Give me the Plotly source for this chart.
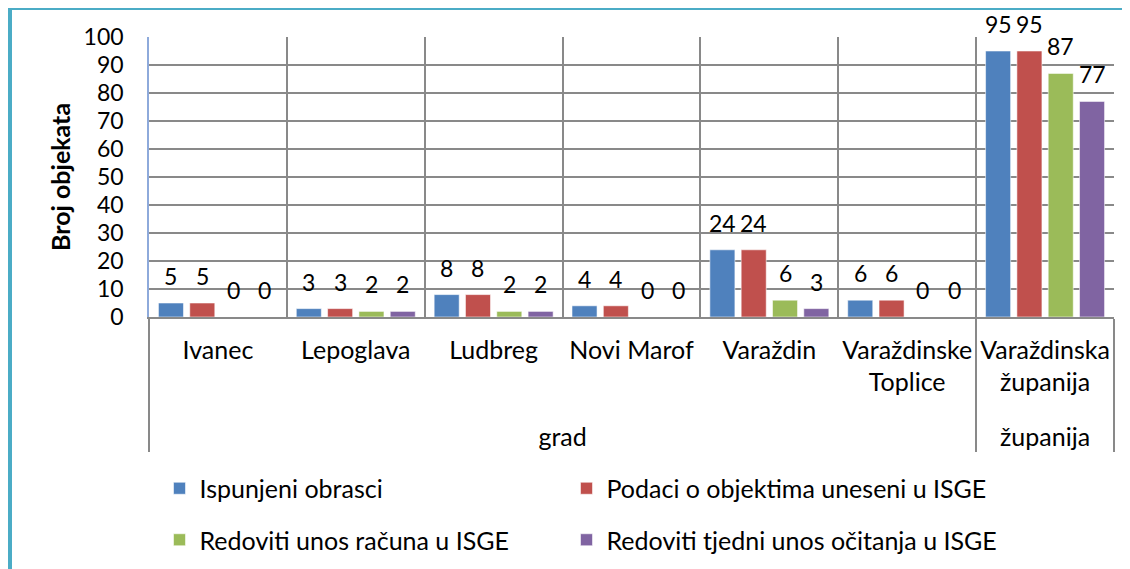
import plotly.graph_objects as go

groups = ["<br>grad"] * 6 + ["<br>županija"]
cities = ["Ivanec", "Lepoglava", "Ludbreg", "Novi Marof", "Varaždin",
          "Varaždinske<br>Toplice", "Varaždinska<br>županija"]

series_names = ["Ispunjeni obrasci", "Podaci o objektima uneseni u ISGE",
                "Redoviti unos računa u ISGE", "Redoviti tjedni unos očitanja u ISGE"]
ispunjeni = [5, 3, 8, 4, 24, 6, 95]
podaci = [5, 3, 8, 4, 24, 6, 95]
racuni = [0, 2, 2, 0, 6, 0, 87]
ocitanja = [0, 2, 2, 0, 3, 0, 77]
series_values = [ispunjeni, podaci, racuni, ocitanja]
colors = ["#4f81bd", "#c0504d", "#9bbb59", "#8064a2"]

yticks = [0, 10, 20, 30, 40, 50, 60, 70, 80, 90, 100]
y_title = "Broj objekata"

FONT = "Lato, 'Noto Sans', sans-serif"
FS_TXT = 25
FS_NUM = 23
BARGAP = 0.0914
NSER = len(series_values)

# figure is drawn inside the page's default 8px body margin
W, H = 1122, 561
ML, MR, MT, MB = 141, 16, 29, 252
PW, PH = W - ML - MR, H - MT - MB

fig = go.Figure()
for k, (name, vals, col) in enumerate(zip(series_names, series_values, colors)):
    fig.add_trace(go.Bar(
        x=[groups, cities], y=vals, name=name,
        marker=dict(color=col, line=dict(color="rgba(255,255,255,0.55)", width=1)),
        legend="legend" if k % 2 == 0 else "legend2",
        legendgroup=f"g{k}",
    ))

# data labels (positioned through the axis scales)
slot = (1 - BARGAP) / NSER
annotations = []
for k, vals in enumerate(series_values):
    off = -(1 - BARGAP) / 2 + slot * (k + 0.5)
    for j, v in enumerate(vals):
        annotations.append(dict(
            x=j + off, y=v, xref="x", yref="y", text=str(v), showarrow=False,
            yanchor="bottom", yshift=11, font=dict(family=FONT, size=FS_NUM, color="#000000"),
        ))

# y-axis title
annotations.append(dict(
    x=(52 - ML) / PW, y=0.5, xref="paper", yref="paper", text=f"<b>{y_title}</b>",
    showarrow=False, textangle=-90, xanchor="center", yanchor="middle",
    font=dict(family=FONT, size=FS_TXT, color="#000000"),
))

legend_common = dict(orientation="v", xref="container", yref="container",
                     xanchor="left", yanchor="middle", y=1 - 506 / H,
                     font=dict(family=FONT, size=FS_TXT), traceorder="grouped",
                     tracegroupgap=16, bgcolor="rgba(0,0,0,0)")

fig.update_layout(
    width=W, height=H,
    margin=dict(l=ML, r=MR, t=MT, b=MB, autoexpand=False),
    paper_bgcolor="white", plot_bgcolor="white",
    barmode="group", bargap=BARGAP, bargroupgap=0.2,
    font=dict(family=FONT, size=FS_TXT, color="#000000"),
    annotations=annotations,
    legend=dict(legend_common, x=151.5 / W),
    legend2=dict(legend_common, x=558.5 / W),
    shapes=[
        dict(type="line", xref="paper", yref="paper",
             x0=(2 - ML) / PW, x1=(2 - ML) / PW, y0=(MT + PH + 2) / PH, y1=(MT + PH - H - 10) / PH,
             line=dict(color="#4bacc6", width=4)),
        dict(type="line", xref="paper", yref="paper",
             x0=(0 - ML) / PW, x1=(W + 10 - ML) / PW, y0=(MT + PH - 0.5) / PH, y1=(MT + PH - 0.5) / PH,
             line=dict(color="#4bacc6", width=3)),
    ],
)

fig.update_xaxes(
    type="multicategory", showgrid=True, gridcolor="#898989", gridwidth=1.5,
    tickson="boundaries", ticks="", showline=True, linecolor="#898989", linewidth=1.5,
    showdividers=True, dividercolor="#898989", dividerwidth=1.5, tickangle=0, automargin=False,
    tickfont=dict(family=FONT, size=FS_TXT), ticklabelstandoff=10,
)
fig.update_yaxes(
    range=[0, 100], tickvals=yticks, ticktext=[str(t) for t in yticks],
    showgrid=True, gridcolor="#898989", gridwidth=1.5, automargin=False,
    showline=True, linecolor="#8eaadb", linewidth=1.5, zeroline=False,
    ticks="", ticklabelstandoff=19, tickfont=dict(family=FONT, size=FS_NUM),
)

fig.write_html("out.html")
